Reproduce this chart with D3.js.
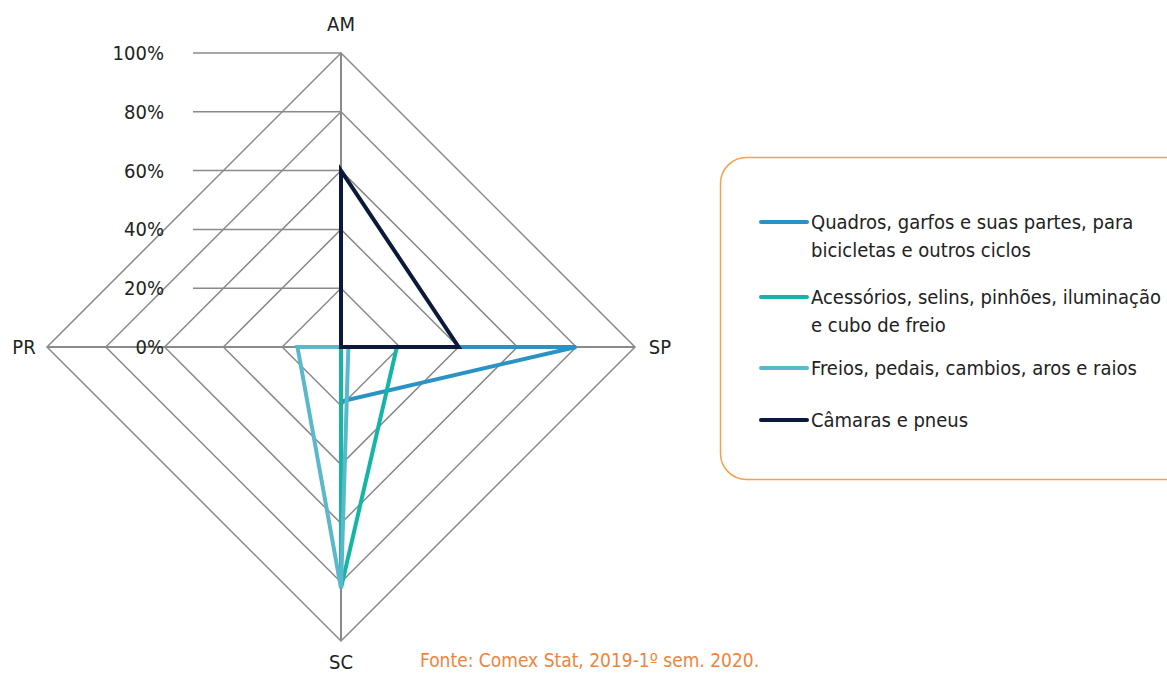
<!DOCTYPE html>
<html>
<head>
<meta charset="utf-8">
<script src="https://cdn.jsdelivr.net/npm/d3@7"></script>
<style>
  html, body { margin: 0; padding: 0; background: #fff; }
  svg { display: block; }
  text { font-family: "Liberation Sans Narrow", "DejaVu Sans Condensed", "Roboto", sans-serif; }
</style>
</head>
<body>
<svg id="chart" width="1167" height="676"></svg>
<script>
// States on the radar axes, clockwise from the top
const states = ["AM", "SP", "SC", "PR"];

// Share of each product group by state (0–1)
const seriesNames = [
  ["Quadros, garfos e suas partes, para", "bicicletas e outros ciclos"],
  ["Acessórios, selins, pinhões, iluminação", "e cubo de freio"],
  ["Freios, pedais, cambios, aros e raios"],
  ["Câmaras e pneus"]
];
const quadros    = [0.00, 0.80, 0.185, 0.00];
const acessorios = [0.00, 0.19, 0.82, 0.00];
const freios     = [0.00, 0.025, 0.82, 0.148];
const camaras    = [0.60, 0.40, 0.00, 0.00];
const seriesValues = [quadros, acessorios, freios, camaras];
const seriesColors = ["#2a93c5", "#14b5a6", "#59b9cb", "#0b1a3c"];

const tickValues = [0, 0.2, 0.4, 0.6, 0.8, 1.0];
const tickLabels = ["0%", "20%", "40%", "60%", "80%", "100%"];

const sourceNote = "Fonte: Comex Stat, 2019-1º sem. 2020.";

const svg = d3.select("#chart");
const cx = 341, cy = 347, R = 294;

const r = d3.scaleLinear().domain([0, 1]).range([0, R]);
const angle = d3.scalePoint().domain(states).range([0, 2 * Math.PI * 3 / 4]);
// screen point for value v on axis state s (0 angle = up, clockwise)
const pt = (s, v) => {
  const a = angle(s);
  return [cx + r(v) * Math.sin(a), cy - r(v) * Math.cos(a)];
};

const g = svg.append("g");

// horizontal tick guides from the value labels to the top axis
g.selectAll("line.tick").data(tickValues).join("line")
  .attr("x1", 193).attr("x2", cx)
  .attr("y1", d => cy - r(d)).attr("y2", d => cy - r(d))
  .attr("stroke", "#8a8a8a").attr("stroke-width", 1.5);

// grid diamonds
g.selectAll("path.grid").data(tickValues.filter(d => d > 0)).join("path")
  .attr("d", d => d3.line()(states.map(s => pt(s, d))) + "Z")
  .attr("fill", "none").attr("stroke", "#8a8a8a").attr("stroke-width", 1.5);

// spokes
g.selectAll("line.spoke").data(states).join("line")
  .attr("x1", cx).attr("y1", cy)
  .attr("x2", s => pt(s, 1)[0]).attr("y2", s => pt(s, 1)[1])
  .attr("stroke", "#8a8a8a").attr("stroke-width", 2);

// value labels
g.selectAll("text.tick").data(tickValues).join("text")
  .attr("x", 164).attr("y", d => cy - r(d))
  .attr("dy", "0.35em").attr("text-anchor", "end")
  .attr("font-size", 20).attr("fill", "#222")
  .text((d, i) => tickLabels[i]);

// state labels
const labelPos = { AM: [cx, 24], SP: [660, cy], SC: [cx, 662], PR: [24, cy] };
g.selectAll("text.state").data(states).join("text")
  .attr("x", s => labelPos[s][0]).attr("y", s => labelPos[s][1])
  .attr("dy", "0.35em").attr("text-anchor", "middle")
  .attr("font-size", 20).attr("fill", "#222")
  .text(s => s);

// series polygons
const line = d3.line();
g.selectAll("path.series").data(seriesValues).join("path")
  .attr("d", vals => line(states.map((s, i) => pt(s, vals[i]))) + "Z")
  .attr("fill", "none")
  .attr("stroke", (d, i) => seriesColors[i])
  .attr("stroke-width", 4)
  .attr("stroke-linejoin", "miter");

// legend
svg.append("rect")
  .attr("x", 720.5).attr("y", 157.5).attr("width", 470).attr("height", 322)
  .attr("rx", 26).attr("ry", 26)
  .attr("fill", "#fff").attr("stroke", "#f5a04a").attr("stroke-width", 1.5);

const legendY = [222, 297, 368, 420];
const lg = svg.selectAll("g.leg").data(seriesNames).join("g")
  .attr("transform", (d, i) => `translate(0,${legendY[i]})`);
lg.append("line")
  .attr("x1", 761).attr("x2", 807).attr("y1", 0).attr("y2", 0)
  .attr("stroke", (d, i) => seriesColors[i]).attr("stroke-width", 4)
  .attr("stroke-linecap", "round");
lg.each(function(lines) {
  const t = d3.select(this).append("text")
    .attr("x", 811).attr("y", 0).attr("font-size", 20).attr("fill", "#222");
  lines.forEach((l, k) => {
    t.append("tspan").attr("x", 811).attr("dy", k === 0 ? "0.35em" : 28).text(l);
  });
});

// source note
svg.append("text")
  .attr("x", 420).attr("y", 660).attr("dy", "0.35em")
  .attr("font-size", 19).attr("fill", "#f0843a")
  .text(sourceNote);
</script>
</body>
</html>
